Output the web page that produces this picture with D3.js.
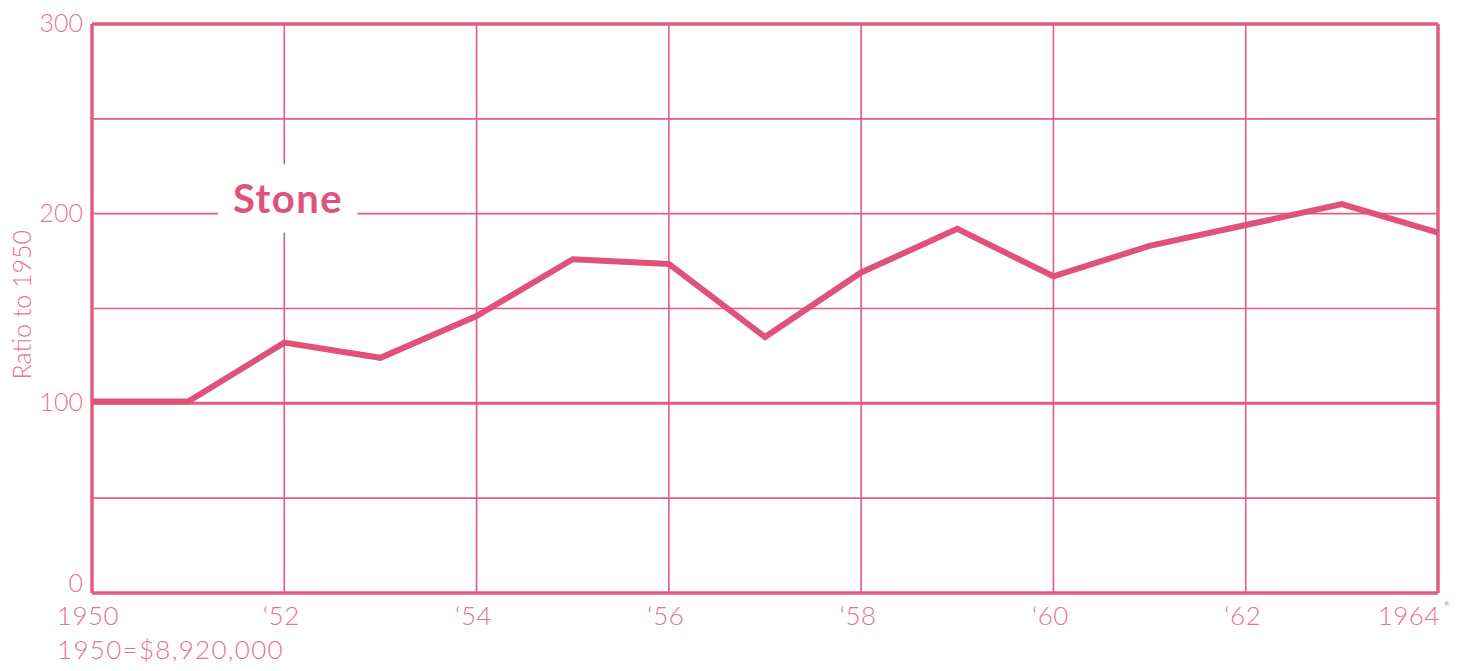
<!DOCTYPE html>
<html>
<head>
<meta charset="utf-8">
<script src="https://cdn.jsdelivr.net/npm/d3@7"></script>
<style>
  html, body { margin: 0; padding: 0; background: #ffffff; }
  svg { display: block; }
  text { font-family: "Lato", "Open Sans", sans-serif; }
</style>
</head>
<body>
<svg id="chart" width="1474" height="671"></svg>
<script>
const years = [1950,1951,1952,1953,1954,1955,1956,1957,1958,1959,1960,1961,1962,1963,1964];
const stoneValues = [101,101,132,124,146,176,173.5,135,169,192,167,183,194,205,190];
const yTicks = [0,100,200,300];
const yGrid = [0,50,100,150,200,250,300];
const xTicks = [1950,1952,1954,1956,1958,1960,1962,1964];
const xTickLabels = ["1950","\u201852","\u201854","\u201856","\u201858","\u201860","\u201862","1964"];
const seriesName = "Stone";
const yTitle = "Ratio to 1950";
const baseNote = "1950=$8,920,000";
const footMark = "*";

const lineColor = "#e0527a";
const gridColor = "#e25c80";
const textColor = "#e57390";

const svg = d3.select("#chart");
const mLeft = 92, mRight = 1438, mTop = 24, mBottom = 593;

const x = d3.scaleLinear().domain([1950,1964]).range([mLeft, mRight]);
const y = d3.scaleLinear().domain([0,300]).range([mBottom, mTop]);

// horizontal gridlines
svg.append("g").selectAll("line").data(yGrid).join("line")
  .attr("x1", mLeft).attr("x2", mRight)
  .attr("y1", d => y(d)).attr("y2", d => y(d))
  .attr("stroke", gridColor)
  .attr("stroke-width", d => (d === 100 ? 3 : (d === 0 || d === 300 ? 3.5 : 1.6)));

// vertical gridlines
svg.append("g").selectAll("line").data(xTicks).join("line")
  .attr("x1", d => x(d)).attr("x2", d => x(d))
  .attr("y1", mTop).attr("y2", mBottom)
  .attr("stroke", gridColor)
  .attr("stroke-width", d => (d === 1950 || d === 1964 ? 3.5 : 1.6));

// label knockout + label
svg.append("rect")
  .attr("x", x(1951.31)).attr("y", y(226))
  .attr("width", x(1952.76) - x(1951.31))
  .attr("height", y(190) - y(226))
  .attr("fill", "#ffffff");
svg.append("text")
  .attr("x", x(1952.04)).attr("y", y(200) - 1)
  .attr("text-anchor", "middle")
  .attr("fill", lineColor)
  .attr("font-size", 40)
  .attr("font-weight", "bold")
  .attr("letter-spacing", 1.5)
  .text(seriesName);

// data line
const line = d3.line().x((d,i) => x(years[i])).y(d => y(d));
svg.append("path")
  .datum(stoneValues)
  .attr("d", line)
  .attr("fill", "none")
  .attr("stroke", lineColor)
  .attr("stroke-width", 6)
  .attr("stroke-linejoin", "miter");

// y tick labels
svg.append("g").selectAll("text").data(yTicks).join("text")
  .attr("x", mLeft - 9).attr("y", d => y(d) + (d === 0 ? -1 : 8))
  .attr("text-anchor", "end")
  .attr("fill", textColor)
  .attr("font-size", 25)
  .attr("font-weight", 300)
  .text(d => d);

// x tick labels
svg.append("g").selectAll("text").data(xTicks).join("text")
  .attr("x", (d,i) => i === xTicks.length - 1 ? x(d) + 2 : x(d) + (i === 0 ? -4 : -3))
  .attr("y", mBottom + 32)
  .attr("text-anchor", (d,i) => i === xTicks.length - 1 ? "end" : "middle")
  .attr("fill", textColor)
  .attr("font-size", 26)
  .attr("font-weight", 300)
  .attr("letter-spacing", 0.5)
  .text((d,i) => xTickLabels[i]);
svg.append("text")
  .attr("x", x(1964) + 5).attr("y", mBottom + 21)
  .attr("fill", textColor)
  .attr("font-size", 17)
  .attr("font-weight", 300)
  .text(footMark);

// footnote
svg.append("text")
  .attr("x", 57).attr("y", mBottom + 66)
  .attr("fill", textColor)
  .attr("font-size", 26)
  .attr("font-weight", 300)
  .attr("letter-spacing", 1.3)
  .text(baseNote);

// y title
svg.append("text")
  .attr("transform", `translate(31, ${y(152)}) rotate(-90)`)
  .attr("text-anchor", "middle")
  .attr("fill", textColor)
  .attr("font-size", 25)
  .attr("font-weight", 300)
  .text(yTitle);
</script>
</body>
</html>
